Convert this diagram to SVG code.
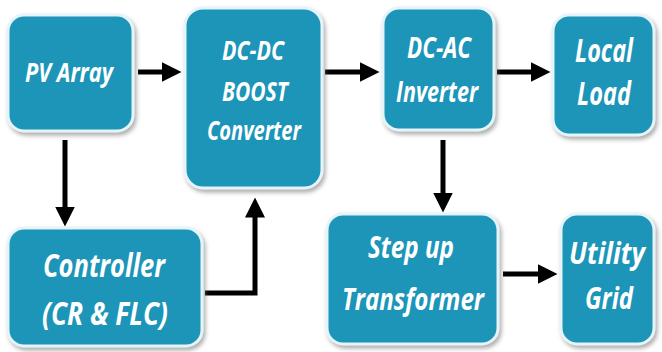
<svg xmlns="http://www.w3.org/2000/svg" width="662" height="352" viewBox="0 0 662 352">
<defs>
<filter id="sh" x="-10%" y="-10%" width="125%" height="125%">
<feDropShadow dx="2" dy="3" stdDeviation="2" flood-color="#777" flood-opacity="0.6"/>
</filter>
<marker id="ah" markerWidth="4" markerHeight="4" refX="0.5" refY="2" orient="auto" markerUnits="strokeWidth" viewBox="0 0 4 4">
<path d="M0,0 L4,2 L0,4 Z" fill="#000"/>
</marker>
<style>
.box{fill:#1f95b8;stroke:#e4f4f8;stroke-width:3;filter:url(#sh)}
.t{fill:#fff;font-family:"Open Sans","Noto Sans",sans-serif;font-weight:bold;font-style:italic;text-anchor:middle}
.c{fill:none;stroke:#000;stroke-width:5;marker-end:url(#ah)}
</style>
</defs>
<rect width="662" height="352" fill="#fff"/>
<g id="connectors">
<path class="c" d="M138,72 H164"/>
<path class="c" d="M325,72 H362"/>
<path class="c" d="M497,72 H533"/>
<path class="c" d="M65,140 V209"/>
<path class="c" d="M205,293 H255 V215"/>
<path class="c" d="M443,140 V195"/>
<path class="c" d="M503,274 H540"/>
</g>
<g id="pv"><rect class="box" x="8" y="15" width="125" height="116" rx="16"/>
<text class="t" x="69" y="82" font-size="27" textLength="88" lengthAdjust="spacingAndGlyphs">PV Array</text></g>
<g id="dcdc"><rect class="box" x="185" y="8" width="137" height="180" rx="18"/>
<text class="t" x="253" y="60" font-size="27" textLength="62" lengthAdjust="spacingAndGlyphs">DC-DC</text>
<text class="t" x="255" y="101" font-size="27" textLength="66" lengthAdjust="spacingAndGlyphs">BOOST</text>
<text class="t" x="254" y="140" font-size="27" textLength="94" lengthAdjust="spacingAndGlyphs">Converter</text></g>
<g id="dcac"><rect class="box" x="383" y="8" width="111" height="122" rx="16"/>
<text class="t" x="439" y="58" font-size="28" textLength="64" lengthAdjust="spacingAndGlyphs">DC-AC</text>
<text class="t" x="437" y="102" font-size="28" textLength="82" lengthAdjust="spacingAndGlyphs">Inverter</text></g>
<g id="load"><rect class="box" x="553" y="15" width="101" height="120" rx="16"/>
<text class="t" x="604" y="62" font-size="33" textLength="58" lengthAdjust="spacingAndGlyphs">Local</text>
<text class="t" x="604" y="105" font-size="33" textLength="54" lengthAdjust="spacingAndGlyphs">Load</text></g>
<g id="ctrl"><rect class="box" x="8" y="228" width="194" height="118" rx="16"/>
<text class="t" x="104" y="277" font-size="32" textLength="122" lengthAdjust="spacingAndGlyphs">Controller</text>
<text class="t" x="105" y="325" font-size="32" textLength="126" lengthAdjust="spacingAndGlyphs">(CR &amp; FLC)</text></g>
<g id="step"><rect class="box" x="327" y="214" width="171" height="130" rx="16"/>
<text class="t" x="411" y="258" font-size="31" textLength="86" lengthAdjust="spacingAndGlyphs">Step up</text>
<text class="t" x="413" y="310" font-size="31" textLength="142" lengthAdjust="spacingAndGlyphs">Transformer</text></g>
<g id="grid"><rect class="box" x="561" y="214" width="93" height="130" rx="16"/>
<text class="t" x="607" y="264" font-size="31" textLength="76" lengthAdjust="spacingAndGlyphs">Utility</text>
<text class="t" x="609" y="309" font-size="31" textLength="48" lengthAdjust="spacingAndGlyphs">Grid</text></g>
</svg>
